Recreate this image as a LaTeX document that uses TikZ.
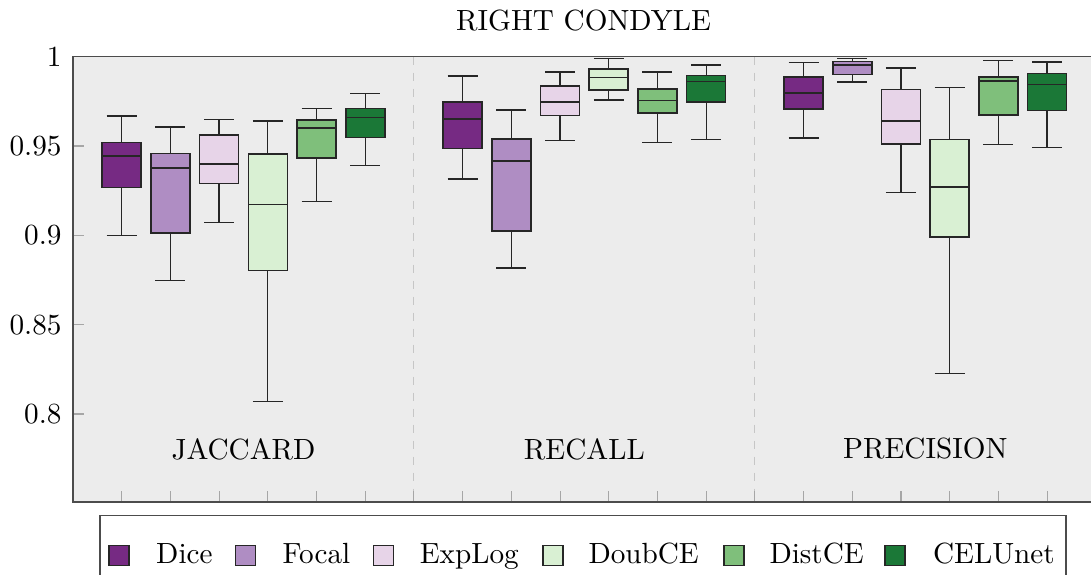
\documentclass[tikz,border=0pt]{standalone}
\definecolor{cDice}{HTML}{762A83}
\definecolor{cFocal}{HTML}{AF8DC3}
\definecolor{cExpLog}{HTML}{E7D4E8}
\definecolor{cDoubCE}{HTML}{D9F0D3}
\definecolor{cDistCE}{HTML}{7FBF7B}
\definecolor{cCELUnet}{HTML}{1B7837}
\begin{document}
\begin{tikzpicture}[x=0.375pt,y=-0.375pt,
  whisk/.style={draw=black!85,line width=0.5pt},
  boxst/.style={draw=black!85,line width=0.6pt},
  tickst/.style={draw=gray!70,line width=0.4pt},
  sep/.style={draw=gray!45,dashed,dash pattern=on 3pt off 3pt,line width=0.4pt},
  frame/.style={draw=black!70,line width=0.5pt},
  lbl/.style={font=\fontsize{10.95}{13}\selectfont,inner sep=0pt},
  legsq/.style={draw=black!85,line width=0.5pt}]
\useasboundingbox (0,0) rectangle (1091,575);
% axis background
\fill[gray!15] (73,56.5) rectangle (1095.8,502);
% separators
\draw[sep] (413.9,56.5) -- (413.9,502);
\draw[sep] (754.9,56.5) -- (754.9,502);
% y ticks and labels
\foreach \yy/\t in {56.7/1,146/0.95,235.3/0.9,324.6/0.85,414/0.8}{
  \draw[tickst] (73,\yy) -- (84.4,\yy);
  \node[lbl,anchor=east] (yl\t) at (62,\yy) {$\t$};
}
% x ticks
\foreach \i in {1,...,20}{
  \pgfmathsetmacro\xt{73+48.705*\i}
  \draw[tickst] (\xt,502) -- (\xt,490.6);
}
% group labels
\node[lbl] (gJ) at (243.5,449) {JACCARD};
\node[lbl] (gR) at (584.4,449) {RECALL};
\node[lbl] (gP) at (925.3,449) {PRECISION};
% title
\node[lbl] (title) at (583.5,21) {RIGHT CONDYLE};
% box plots
\foreach \i/\c/\uw/\qt/\md/\qb/\lw in {
  1/cDice/116/142.3/155.7/187.3/235.7,
  2/cFocal/127/153.3/167.7/232.7/280.7,
  3/cExpLog/119.3/134.7/163.7/183.3/222.3,
  4/cDoubCE/121/154/204.3/270.3/401.7,
  5/cDistCE/108.3/119.7/128/157.7/201.7,
  6/cCELUnet/93.7/108.3/117.3/137.3/165.7,
  8/cDice/76/101.7/118.7/148.3/179,
  9/cFocal/110/139/160.7/231/268,
  10/cExpLog/72/86/102/115.3/140.7,
  11/cDoubCE/58.7/69/77.3/90/100,
  12/cDistCE/72/89/100.3/113/142.3,
  13/cCELUnet/65/75.3/81.3/101.7/139.3,
  15/cDice/62.7/77/92.7/108.7/138,
  16/cFocal/58.3/61.3/65/74.3/82,
  17/cExpLog/68/89.3/120.7/144/192.7,
  18/cDoubCE/87.3/139.3/187/236.7/373.7,
  19/cDistCE/60.7/76.7/80.7/114.7/144.3,
  20/cCELUnet/62/73.3/84.3/110.3/147.7}{
  \pgfmathsetmacro\xc{73+48.705*\i}
  \draw[whisk] (\xc,\uw) -- (\xc,\qt) (\xc,\qb) -- (\xc,\lw);
  \draw[whisk] ({\xc-15},\uw) -- ({\xc+15},\uw);
  \draw[whisk] ({\xc-15},\lw) -- ({\xc+15},\lw);
  \filldraw[boxst,fill=\c] ({\xc-19.5},\qt) rectangle ({\xc+19.5},\qb);
  \draw[boxst] ({\xc-19.5},\md) -- ({\xc+19.5},\md);
}
% axis frame
\draw[frame] (1095.8,56.5) -- (73,56.5) -- (73,502) -- (1095.8,502);
% legend
\draw[frame,fill=white] (100,515.7) rectangle (1066,600);
\foreach \sx/\tx/\c/\n in {109/155.7/cDice/Dice,235.7/282/cFocal/Focal,373.3/419.3/cExpLog/ExpLog,
  543/588/cDoubCE/DoubCE,724/769/cDistCE/DistCE,885/932.5/cCELUnet/CELUnet}{
  \filldraw[legsq,fill=\c] (\sx,545.7) rectangle ({\sx+20},565.7);
  \node[lbl,anchor=base west] (leg\n) at (\tx,563.3) {\n};
}
\end{tikzpicture}
\end{document}
